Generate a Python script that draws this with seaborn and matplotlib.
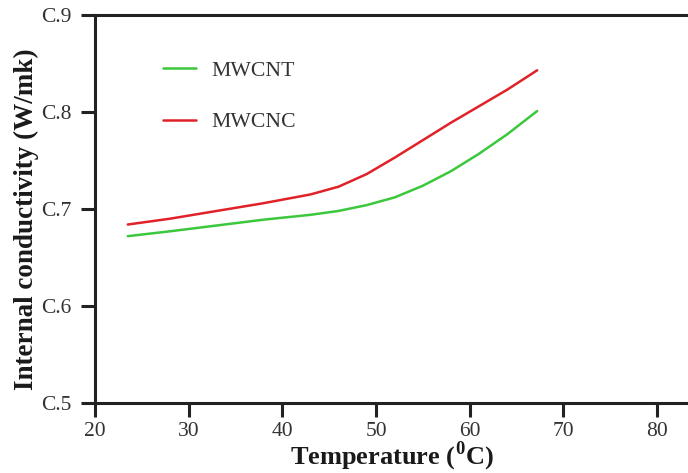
import matplotlib
matplotlib.use("Agg")
import matplotlib.pyplot as plt
import seaborn as sns
import pandas as pd

# ---- data ----
temperature = [23.5, 28, 33, 38, 43, 46, 49, 52, 55, 58, 61, 64, 67.2]
mwcnt = [0.672, 0.677, 0.683, 0.689, 0.694, 0.698, 0.704, 0.712, 0.724, 0.739, 0.757, 0.777, 0.801]
mwcnc = [0.684, 0.690, 0.698, 0.706, 0.715, 0.723, 0.736, 0.753, 0.771, 0.789, 0.806, 0.823, 0.843]
series_names = ["MWCNT", "MWCNC"]
x_ticks = [20, 30, 40, 50, 60, 70, 80]
y_ticks = [0.5, 0.6, 0.7, 0.8, 0.9]
y_tick_labels = ["C.5", "C.6", "C.7", "C.8", "C.9"]

df = pd.concat([
    pd.DataFrame({"Temperature": temperature, "k": mwcnt, "Sample": series_names[0]}),
    pd.DataFrame({"Temperature": temperature, "k": mwcnc, "Sample": series_names[1]}),
])

sns.set_theme(style="white")
plt.rcParams["font.family"] = ["Liberation Serif", "DejaVu Serif"]
plt.rcParams["mathtext.fontset"] = "custom"
plt.rcParams["mathtext.rm"] = "Liberation Serif:bold"
plt.rcParams["mathtext.bf"] = "Liberation Serif:bold"

fig = plt.figure(figsize=(6.88, 4.73), dpi=100)
ax = fig.add_axes([95 / 688, (473 - 403) / 473, 1 - 95 / 688, (403 - 15) / 473])

palette = {"MWCNT": "#3cc83c", "MWCNC": "#e02228"}
sns.lineplot(data=df, x="Temperature", y="k", hue="Sample", palette=palette,
             linewidth=1.8, ax=ax, legend=True)

ax.set_xlim(20, 83.3)
ax.set_ylim(0.5, 0.9)
ax.set_xticks(x_ticks)
ax.set_yticks(y_ticks)
ax.set_yticklabels(y_tick_labels)

for s in ["left", "bottom", "top"]:
    ax.spines[s].set_visible(True)
    ax.spines[s].set_color("#222222")
    ax.spines[s].set_linewidth(2.2)
ax.spines["right"].set_visible(False)

ax.tick_params(axis="both", which="major", direction="out", length=10, width=2.2,
               color="#222222", labelsize=15.5, labelcolor="#333333",
               left=True, bottom=True)
ax.tick_params(axis="x", pad=4)
ax.tick_params(axis="y", pad=7)

ax.set_xlabel(r"Temperature ($^{0}$C)", fontsize=19, fontweight="bold",
              color="#1a1a1a", labelpad=-1)
ax.set_ylabel("Internal conductivity (W/mk)", fontsize=19.5, fontweight="bold",
              color="#1a1a1a", labelpad=1)
ax.yaxis.label.set_y(0.473)

leg = ax.legend(loc="upper left", bbox_to_anchor=(0.115, 0.882), frameon=False,
                fontsize=15.7, handlelength=1.5, handletextpad=0.7, labelspacing=1.43,
                borderaxespad=0, borderpad=0)
for t in leg.get_texts():
    t.set_color("#333333")

fig.savefig("out.png", dpi=100)
